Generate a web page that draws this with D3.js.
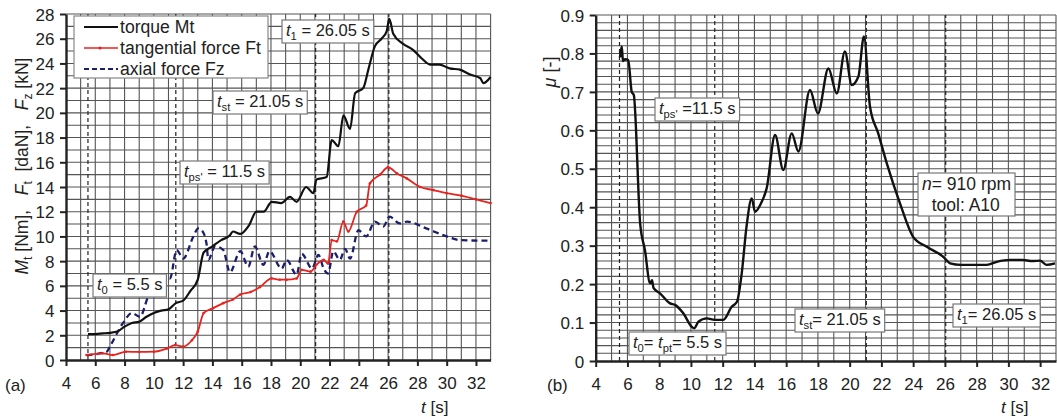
<!DOCTYPE html>
<html>
<head>
<meta charset="utf-8">
<script src="https://cdn.jsdelivr.net/npm/d3@7"></script>
<style>
  body { margin: 0; background: #fff; }
  svg text { font-family: "Liberation Sans", Arial, sans-serif; fill: #222; }
</style>
</head>
<body>
<svg id="chart" width="1057" height="417"></svg>
<script>
// ---- data ----
// (a) torque Mt [Nm]
const torqueT = [5.5, 6.0, 6.5, 7.0, 7.5, 8.0, 8.5, 9.0, 9.5, 10.0, 10.5, 11.0, 11.5, 12.0, 12.5, 13.0, 13.4, 14.0, 14.6, 15.2, 15.4, 15.9, 16.5, 17.0, 17.5, 18.05, 18.7, 19.3, 19.75, 20.4, 20.9, 21.1, 21.8, 22.15, 22.6, 22.95, 23.4, 23.75, 24.3, 24.65, 25.1, 25.55, 25.9, 26.08, 26.35, 27.0, 27.7, 28.3, 28.9, 29.5, 30.2, 30.9, 31.6, 32.3, 32.5, 33.0]
const torqueV = [2.1, 2.1, 2.15, 2.2, 2.3, 2.7, 3.0, 3.1, 3.5, 3.8, 4.0, 4.1, 4.6, 4.8, 5.6, 6.5, 8.7, 9.2, 9.7, 10.1, 10.4, 10.2, 10.9, 12.0, 12.0, 12.8, 12.7, 13.2, 12.8, 14.0, 13.5, 14.6, 14.8, 17.8, 17.3, 19.8, 18.7, 21.6, 22.0, 23.5, 25.4, 26.0, 26.6, 27.6, 26.4, 25.6, 25.1, 24.4, 23.9, 23.9, 23.6, 23.5, 23.1, 22.8, 22.4, 22.9]
// (a) tangential force Ft [daN]
const ftT = [5.4, 6.5, 7.2, 8.1, 9.0, 10.0, 10.9, 11.45, 12.0, 12.6, 13.0, 13.4, 14.06, 14.74, 15.4, 15.9, 16.6, 17.25, 18.05, 18.6, 19.07, 19.75, 20.1, 20.7, 21.1, 21.6, 21.9, 22.15, 22.5, 22.94, 23.28, 23.86, 24.5, 24.76, 25.45, 26.0, 26.6, 27.27, 28.2, 29.1, 30.0, 31.0, 32.0, 33.0]
const ftV = [0.4, 0.54, 0.4, 0.67, 0.65, 0.67, 0.94, 1.2, 1.08, 1.6, 2.3, 3.8, 4.2, 4.6, 4.9, 5.3, 5.5, 5.9, 6.6, 6.5, 6.5, 6.6, 7.3, 7.15, 7.7, 8.1, 7.8, 9.7, 9.6, 11.2, 10.4, 12.0, 12.5, 14.3, 15.0, 15.6, 15.1, 14.7, 14.0, 13.75, 13.5, 13.3, 13.0, 12.7]
// (a) axial force Fz [kN]
const fzT = [5.4, 6.78, 7.0, 7.9, 8.5, 9.05, 9.6, 10.2, 10.9, 11.1, 11.56, 12.0, 12.7, 13.03, 13.27, 13.6, 13.72, 14.18, 14.74, 15.2, 15.9, 16.45, 16.9, 17.48, 17.9, 18.73, 19.07, 19.75, 20.1, 20.8, 21.24, 21.6, 21.9, 22.26, 22.7, 23.06, 23.4, 23.97, 24.5, 25.1, 25.67, 26.1, 26.8, 27.3, 28.6, 30.0, 30.9, 33.0]
const fzV = [0.4, 0.67, 1.1, 3.0, 3.8, 3.5, 5.1, 6.4, 6.7, 6.6, 8.9, 8.2, 10.0, 10.65, 10.5, 9.4, 8.1, 9.2, 8.9, 7.1, 8.8, 7.55, 9.2, 7.7, 8.8, 7.4, 8.1, 6.9, 8.6, 7.4, 8.5, 7.4, 7.0, 8.8, 8.1, 9.0, 8.2, 10.5, 10.0, 11.2, 10.8, 11.6, 11.05, 11.2, 10.65, 10.0, 9.7, 9.65]
// (b) friction coefficient mu [-]
const muT = [5.53, 5.64, 5.72, 5.85, 6.05, 6.27, 6.4, 6.8, 7.1, 7.43, 7.55, 7.64, 8.05, 8.68, 9.0, 9.52, 10.05, 10.2, 10.47, 11.0, 11.5, 12.04, 12.57, 12.9, 13.2, 13.5, 13.83, 14.04, 14.46, 14.77, 15.3, 15.82, 16.35, 16.77, 17.5, 18.0, 18.66, 19.19, 19.7, 20.13, 20.55, 20.9, 21.28, 21.8, 22.34, 23.17, 24.0, 24.86, 25.9, 26.33, 27.0, 27.58, 28.64, 29.27, 30.1, 30.9, 31.5, 32.0, 32.4, 32.94]
const muV = [0.79, 0.818, 0.78, 0.785, 0.783, 0.70, 0.692, 0.358, 0.289, 0.202, 0.21, 0.19, 0.176, 0.15, 0.146, 0.124, 0.089, 0.085, 0.102, 0.111, 0.107, 0.107, 0.141, 0.154, 0.228, 0.349, 0.423, 0.388, 0.414, 0.449, 0.588, 0.497, 0.592, 0.545, 0.705, 0.644, 0.761, 0.696, 0.805, 0.718, 0.74, 0.844, 0.662, 0.592, 0.514, 0.41, 0.323, 0.297, 0.271, 0.254, 0.25, 0.25, 0.25, 0.258, 0.263, 0.263, 0.26, 0.261, 0.25, 0.254]

const xTicks = [4, 6, 8, 10, 12, 14, 16, 18, 20, 22, 24, 26, 28, 30, 32]
const yTicksA = [0, 2, 4, 6, 8, 10, 12, 14, 16, 18, 20, 22, 24, 26, 28]
const yTicksB = [0, 0.1, 0.2, 0.3, 0.4, 0.5, 0.6, 0.7, 0.8, 0.9]
const markT = [5.5, 11.5, 21.05, 26.05]

const svg = d3.select("#chart")

function zip(ts, vs) { return ts.map((t, i) => [t, vs[i]]) }

function drawFrame(x, y, gridX, gridY, yTicks, yFmt) {
    let g = svg.append("g")
    let [x0, x1] = x.range()
    let [y0, y1] = y.range()
    g.selectAll(".gx").data(gridX).join("line")
        .attr("x1", d => x(d)).attr("x2", d => x(d))
        .attr("y1", y0).attr("y2", y1)
        .attr("stroke", "#555").attr("stroke-width", 1.1)
    g.selectAll(".gy").data(gridY).join("line")
        .attr("x1", x0).attr("x2", x1)
        .attr("y1", d => y(d)).attr("y2", d => y(d))
        .attr("stroke", "#555").attr("stroke-width", 1.1)
    // axes
    let ax = svg.append("g").attr("transform", "translate(0," + y0 + ")")
        .call(d3.axisBottom(x).tickValues(xTicks).tickSize(6).tickSizeOuter(0))
    let ay = svg.append("g").attr("transform", "translate(" + x0 + ",0)")
        .call(d3.axisLeft(y).tickValues(yTicks).tickSize(6).tickSizeOuter(0).tickFormat(yFmt))
    for (let a of [ax, ay]) {
        a.select(".domain").attr("stroke", "#222").attr("stroke-width", 2.4)
        a.selectAll(".tick line").attr("stroke", "#222").attr("stroke-width", 2)
        a.selectAll(".tick text").attr("font-size", 17).attr("fill", "#222")
            .style("font-family", "'Liberation Sans', Arial, sans-serif")
    }
    ax.selectAll(".tick text").attr("dy", "1.2em")
    ay.selectAll(".tick text").attr("dx", "-0.15em").attr("dy", "0.36em")
    // marker lines
    svg.append("g").selectAll("line").data(markT).join("line")
        .attr("x1", d => x(d)).attr("x2", d => x(d))
        .attr("y1", y0).attr("y2", y1)
        .attr("stroke", "#222").attr("stroke-width", 1.2)
        .attr("stroke-dasharray", "4,3")
}

// parts: [text, style] where style: "i" italic, "s" subscript, "" normal
function label(x, y, lines, size) {
    let fs = size || 16.5
    let g = svg.append("g")
    let txt = g.append("text").attr("font-size", fs)
    lines.forEach((parts, li) => {
        let first = true
        let prevSub = false
        parts.forEach(p => {
            let ts = txt.append("tspan").text(p[0])
            if (first) { ts.attr("x", x).attr("y", y + li * 21); first = false }
            if (p[1].includes("i")) ts.attr("font-style", "italic")
            if (p[1].includes("s")) {
                ts.attr("font-size", fs * 0.68).attr("dy", 4)
                prevSub = true
            } else if (prevSub) {
                ts.attr("dy", -4); prevSub = false
            }
        })
    })
    let b = txt.node().getBBox()
    g.insert("rect", "text")
        .attr("x", b.x - 4).attr("y", b.y - 1)
        .attr("width", b.width + 8).attr("height", b.height + 2)
        .attr("fill", "#fff").attr("stroke", "#777").attr("stroke-width", 1.2)
}

// ---------------- (a) ----------------
const xa = d3.scaleLinear().domain([4, 33]).range([66, 490.6])
const ya = d3.scaleLinear().domain([0, 28]).range([360, 14])
drawFrame(xa, ya, d3.range(5, 34, 1), d3.range(1, 29, 1), yTicksA, d3.format("d"))

const lineA = d3.line().x(d => xa(d[0])).y(d => ya(d[1])).curve(d3.curveMonotoneX)
svg.append("path").datum(zip(fzT, fzV)).attr("d", lineA)
    .attr("fill", "none").attr("stroke", "#1b1f6b").attr("stroke-width", 2.3)
    .attr("stroke-dasharray", "6,4")
svg.append("path").datum(zip(ftT, ftV)).attr("d", lineA)
    .attr("fill", "none").attr("stroke", "#e8231f").attr("stroke-width", 1.8)
svg.append("g").selectAll("circle").data(zip(ftT, ftV)).join("circle")
    .attr("cx", d => xa(d[0])).attr("cy", d => ya(d[1])).attr("r", 1.3)
    .attr("fill", "#e8231f")
svg.append("path").datum(zip(torqueT, torqueV)).attr("d", lineA)
    .attr("fill", "none").attr("stroke", "#111").attr("stroke-width", 2.2)

// legend
const leg = svg.append("g")
leg.append("rect").attr("x", 74).attr("y", 16).attr("width", 194).attr("height", 62)
    .attr("fill", "#fff").attr("stroke", "#888").attr("stroke-width", 1.2)
const legItems = [
    ["torque Mt", "#111", null],
    ["tangential force Ft", "#e8231f", null],
    ["axial force Fz", "#1b1f6b", "5,3"]
]
legItems.forEach((it, i) => {
    let yy = 27 + i * 21
    leg.append("line").attr("x1", 84).attr("x2", 118).attr("y1", yy).attr("y2", yy)
        .attr("stroke", it[1]).attr("stroke-width", i == 1 ? 1.5 : 2)
        .attr("stroke-dasharray", it[2])
    if (i == 1) leg.append("circle").attr("cx", 100).attr("cy", yy).attr("r", 1.6).attr("fill", it[1])
    leg.append("text").attr("x", 120).attr("y", yy + 6).attr("font-size", 17.6).text(it[0])
})

label(286, 36, [[["t", "i"], ["1", "s"], [" = 26.05 s", ""]]])
label(217, 107, [[["t", "i"], ["st", "s"], [" = 21.05 s", ""]]])
label(184, 177, [[["t", "i"], ["ps'", "s"], [" = 11.5 s", ""]]])
label(97, 290, [[["t", "i"], ["0", "s"], [" = 5.5 s", ""]]])

// y title (a)
const yta = svg.append("text").attr("transform", "translate(28,166) rotate(-90)")
    .attr("text-anchor", "middle").attr("font-size", 17.5)
yta.append("tspan").text("M").attr("font-style", "italic")
yta.append("tspan").text("t").attr("font-size", 12).attr("dy", 4)
yta.append("tspan").text(" [Nm],\u00a0\u00a0 ").attr("dy", -4)
yta.append("tspan").text("F").attr("font-style", "italic")
yta.append("tspan").text("t").attr("font-size", 12).attr("dy", 4)
yta.append("tspan").text("\u00a0\u00a0[daN],\u00a0\u00a0 ").attr("dy", -4)
yta.append("tspan").text("F").attr("font-style", "italic")
yta.append("tspan").text("z").attr("font-size", 12).attr("dy", 4)
yta.append("tspan").text(" [kN]").attr("dy", -4)

svg.append("text").attr("x", 5).attr("y", 391).attr("font-size", 17).text("(a)")
const xta = svg.append("text").attr("x", 421).attr("y", 413).attr("font-size", 17)
xta.append("tspan").text("t").attr("font-style", "italic")
xta.append("tspan").text(" [s]")

// ---------------- (b) ----------------
const xb = d3.scaleLinear().domain([4, 33]).range([595.7, 1056])
const yb = d3.scaleLinear().domain([0, 0.9]).range([361, 15])
drawFrame(xb, yb, d3.range(5, 34, 1), d3.range(0.02, 0.905, 0.02), yTicksB, d3.format(".1~f"))

const lineB = d3.line().x(d => xb(d[0])).y(d => yb(d[1])).curve(d3.curveMonotoneX)
svg.append("path").datum(zip(muT, muV)).attr("d", lineB)
    .attr("fill", "none").attr("stroke", "#111").attr("stroke-width", 2.4)

label(659, 114, [[["t", "i"], ["ps'", "s"], [" =11.5 s", ""]]])
label(633, 348, [[["t", "i"], ["0", "s"], ["= ", ""], ["t", "i"], ["pt", "s"], ["= 5.5 s", ""]]])
label(799, 325, [[["t", "i"], ["st", "s"], ["= 21.05 s", ""]]])
label(957, 320, [[["t", "i"], ["1", "s"], ["= 26.05 s", ""]]])
label(922, 190, [[["n", "i"], ["= 910 rpm", ""]], [["\u00a0 tool: A10", ""]]], 17.5)

const ytb = svg.append("text").attr("transform", "translate(556,72) rotate(-90)")
    .attr("text-anchor", "middle").attr("font-size", 18)
ytb.append("tspan").text("μ").attr("font-style", "italic")
ytb.append("tspan").text(" [-]")

svg.append("text").attr("x", 547).attr("y", 391).attr("font-size", 17).text("(b)")
const xtb = svg.append("text").attr("x", 1001).attr("y", 413).attr("font-size", 17)
xtb.append("tspan").text("t").attr("font-style", "italic")
xtb.append("tspan").text(" [s]")
</script>
</body>
</html>
